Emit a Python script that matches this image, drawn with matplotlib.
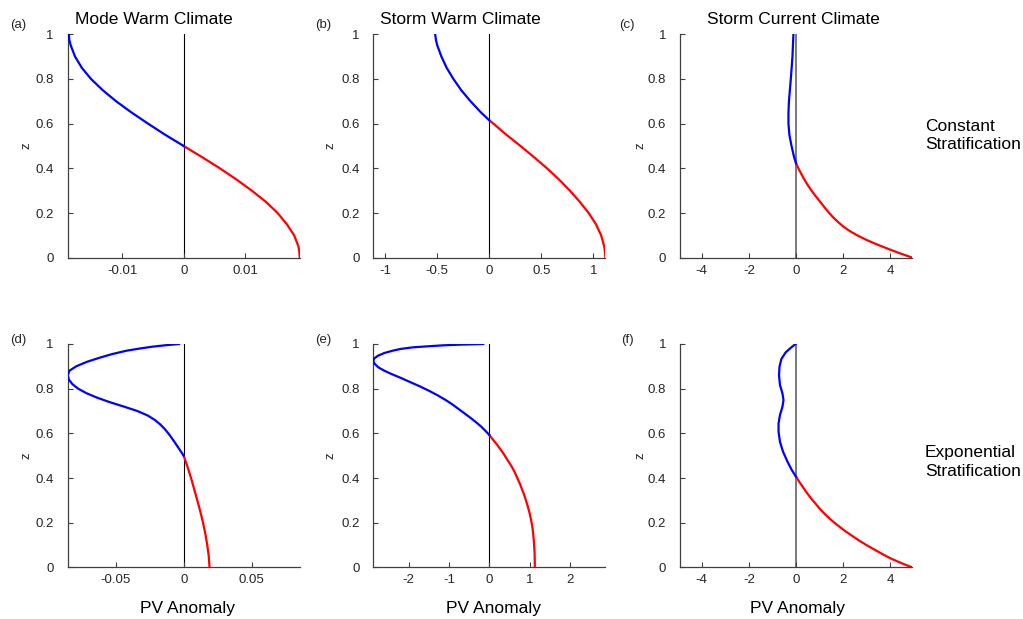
import matplotlib
matplotlib.use("Agg")
import matplotlib.pyplot as plt
import numpy as np

plt.rcParams['font.family'] = ['Liberation Sans', 'DejaVu Sans']
plt.rcParams['axes.unicode_minus'] = False

# ---- PV anomaly profiles (value vs. height z) ----
# (a) Mode, warm climate, constant stratification
z_a = [0, .025, .05, .1, .15, .2, .25, .3, .35, .4, .45, .5, .55, .6, .65, .7, .75, .8, .85, .9,
       .95, .975, 1]
pv_a = [0.0189, 0.01884, 0.0187, 0.0180, 0.0168, 0.0153, 0.0134, 0.0111, 0.0086, 0.0059, 0.0030,
        0.0, -0.0030, -0.0058, -0.0085, -0.0110, -0.0132, -0.0151, -0.0166, -0.0177, -0.0184,
        -0.01864, -0.0187]

# (b) Storm, warm climate, constant stratification
z_b = [0, .025, .05, .1, .15, .2, .25, .3, .35, .4, .45, .5, .55, .6, .615, .65, .7, .75, .8, .85,
       .9, .95, .975, 1]
pv_b = [1.115, 1.112, 1.105, 1.075, 1.025, 0.955, 0.87, 0.775, 0.67, 0.555, 0.43, 0.30, 0.165,
        0.04, 0.0, -0.08, -0.18, -0.27, -0.345, -0.41, -0.46, -0.50, -0.513, -0.52]

# (c) Storm, current climate, constant stratification
z_c = [0, .02, .04, .06, .08, .1, .12, .14, .16, .18, .2, .22, .24, .26, .28, .3, .32, .34, .36,
       .38, .4, .423, .45, .5, .55, .6, .65, .7, .75, .8, .85, .9, .95, 1]
pv_c = [4.94, 4.40, 3.90, 3.42, 2.98, 2.60, 2.27, 2.0, 1.78, 1.58, 1.41, 1.25, 1.10, 0.95, 0.80,
        0.66, 0.53, 0.41, 0.30, 0.20, 0.10, 0.0, -0.08, -0.19, -0.28, -0.32, -0.32, -0.30, -0.26,
        -0.22, -0.185, -0.15, -0.13, -0.11]

# (d) Mode, warm climate, exponential stratification
z_d = [0, .05, .1, .15, .2, .25, .3, .35, .4, .45, .5, .52, .54, .56, .58, .60, .62, .64, .66,
       .68, .70, .72, .74, .76, .78, .80, .82, .84, .86, .88, .90, .92, .94, .955, .97, .98, .988,
       .994, 1.0]
pv_d = [0.0190, 0.0184, 0.0173, 0.0159, 0.0142, 0.0122, 0.0100, 0.0077, 0.0054, 0.0028, 0.0,
        -0.0022, -0.0044, -0.0066, -0.0089, -0.0113, -0.0140, -0.0172, -0.0212, -0.0265, -0.0340,
        -0.0440, -0.0545, -0.0637, -0.0715, -0.0775, -0.0817, -0.0843, -0.0852, -0.0840, -0.0790,
        -0.0712, -0.0610, -0.0525, -0.0420, -0.0320, -0.0230, -0.0140, -0.0034]

# (e) Storm, warm climate, exponential stratification
z_e = [0, .03, .06, .09, .12, .15, .18, .21, .24, .27, .30, .33, .35, .37, .39, .41, .43, .45,
       .47, .49, .51, .53, .55, .57, .593, .61, .63, .65, .67, .69, .71, .73, .75, .77, .79, .81,
       .83, .85, .865, .88, .895, .91, .922, .935, .948, .96, .97, .978, .985, .99, .994, .997, 1.0]
pv_e = [1.13, 1.129, 1.125, 1.117, 1.105, 1.09, 1.07, 1.04, 1.005, 0.96, 0.91, 0.855, 0.81, 0.77,
        0.72, 0.67, 0.62, 0.56, 0.49, 0.42, 0.35, 0.27, 0.19, 0.10, 0.0, -0.09, -0.20, -0.33,
        -0.47, -0.62, -0.77, -0.92, -1.09, -1.28, -1.49, -1.72, -1.97, -2.22, -2.42, -2.60,
        -2.75, -2.84, -2.88, -2.86, -2.76, -2.60, -2.40, -2.20, -1.90, -1.50, -1.15, -0.75, -0.15]

# (f) Storm, current climate, exponential stratification
z_f = [0, .02, .04, .06, .08, .1, .12, .14, .16, .18, .2, .22, .24, .26, .28, .3, .32, .34, .36,
       .38, .406, .436, .473, .518, .562, .607, .645, .682, .719, .749, .779, .816, .861, .898,
       .933, .963, .983, 1.0]
pv_f = [4.93, 4.45, 4.02, 3.66, 3.32, 2.99, 2.68, 2.40, 2.12, 1.87, 1.63, 1.41, 1.21, 1.03, 0.87,
        0.71, 0.56, 0.42, 0.29, 0.16, 0.0, -0.18, -0.36, -0.55, -0.68, -0.74, -0.74, -0.68,
        -0.575, -0.53, -0.575, -0.68, -0.72, -0.70, -0.62, -0.435, -0.22, -0.02]

profiles = [(z_a, pv_a), (z_b, pv_b), (z_c, pv_c), (z_d, pv_d), (z_e, pv_e), (z_f, pv_f)]
xlims = [0.0189, 1.115, 4.92, 0.0852, 2.88, 4.92]
xticks = [[-0.01, 0, 0.01], [-1, -0.5, 0, 0.5, 1], [-4, -2, 0, 2, 4],
          [-0.05, 0, 0.05], [-2, -1, 0, 1, 2], [-4, -2, 0, 2, 4]]
xticklabels = [["-0.01", "0", "0.01"], ["-1", "-0.5", "0", "0.5", "1"], ["-4", "-2", "0", "2", "4"],
               ["-0.05", "0", "0.05"], ["-2", "-1", "0", "1", "2"], ["-4", "-2", "0", "2", "4"]]
yticks = [0, 0.2, 0.4, 0.6, 0.8, 1]
yticklabels = ["0", "0.2", "0.4", "0.6", "0.8", "1"]
panel_tags = ["(a)", "(b)", "(c)", "(d)", "(e)", "(f)"]
col_titles = ["Mode Warm Climate", "Storm Warm Climate", "Storm Current Climate"]
row_labels = [["Constant", "Stratification"], ["Exponential", "Stratification"]]

W, H = 1023, 619
fig = plt.figure(figsize=(W / 100, H / 100), dpi=100)

ax_left = [67.7, 373.3, 680.0]
ax_w = 232.0
row_top = [34.3, 344.0]
ax_h = 223.4
axis_col = '#404040'
zero_line_style = [('black', 0.8), ('black', 0.8), ('#6e6e6e', 1.3)]

for i, (z, pv) in enumerate(profiles):
    r, c = divmod(i, 3)
    ax = fig.add_axes([ax_left[c] / W, 1 - (row_top[r] + ax_h) / H, ax_w / W, ax_h / H])
    z = np.asarray(z)
    pv = np.asarray(pv)
    pos = pv >= 0
    neg = pv <= 0
    zc, zw = zero_line_style[c]
    ax.axvline(0, color=zc, lw=zw, zorder=1)
    ax.plot(pv[pos], z[pos], color='#ff0000', lw=1.6, zorder=3, solid_joinstyle='round')
    ax.plot(pv[neg], z[neg], color='#0000ff', lw=1.6, zorder=3, solid_joinstyle='round')
    ax.set_xlim(-xlims[i], xlims[i])
    ax.set_ylim(0, 1)
    ax.set_xticks(xticks[i])
    ax.set_xticklabels(xticklabels[i])
    ax.set_yticks(yticks)
    ax.set_yticklabels(yticklabels)
    for s in ['top', 'right']:
        ax.spines[s].set_visible(False)
    for s in ['left', 'bottom']:
        ax.spines[s].set_color(axis_col)
        ax.spines[s].set_linewidth(0.9)
    ax.tick_params(axis='both', direction='in', length=3.5, width=0.8, color=axis_col,
                   labelsize=9.5, labelcolor='#262626')
    ax.tick_params(axis='y', pad=10)
    ax.tick_params(axis='x', pad=5)
    ax.patch.set_alpha(0)

# y-axis labels
for yc in [146.0, 455.7]:
    for xc in [26.0, 330.0, 640.0]:
        fig.text(xc / W, 1 - yc / H, "z", rotation=90, ha='center', va='center',
                 fontsize=9.5, color='#262626')

# panel tags
for i, tag in enumerate(panel_tags):
    r, c = divmod(i, 3)
    fig.text([18, 323, 627][c] / W, 1 - [25, 340][r] / H, tag, ha='center', va='center',
             fontsize=9.5, color='#262626')

# column titles
for c, t in enumerate(col_titles):
    fig.text([153.7, 460.5, 793.0][c] / W, 1 - 20 / H, t, ha='center', va='center',
             fontsize=12.5, color='black')

# x-axis labels on bottom row
for c in range(3):
    fig.text([187.0, 493.5, 798.0][c] / W, 1 - 609 / H, "PV Anomaly", ha='center',
             va='center', fontsize=12.5, color='black')

# row labels on the right
row_line_y = [[126.0, 145.0], [452.7, 471.7]]
for r, lines in enumerate(row_labels):
    for txt, yc in zip(lines, row_line_y[r]):
        fig.text(925 / W, 1 - yc / H, txt, ha='left', va='center',
                 fontsize=12.5, color='black')

fig.savefig("out.png", dpi=100, facecolor='white')
